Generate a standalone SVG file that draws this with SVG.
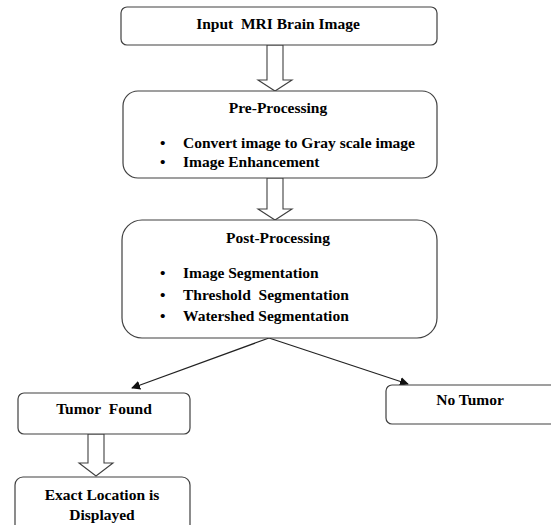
<svg xmlns="http://www.w3.org/2000/svg" width="551" height="525" viewBox="0 0 551 525">
<defs>
<style>
.box{fill:#fff;stroke:#404040;stroke-width:1.2}
text{font-family:'Liberation Serif','DejaVu Serif','Times New Roman',serif;font-weight:bold;font-size:15.5px;fill:#000}
.c{text-anchor:middle}
.blk{fill:#fff;stroke:#404040;stroke-width:1.1}
.ln{stroke:#222;stroke-width:1.2;fill:none}
</style>
<marker id="ah" viewBox="0 0 10 10" refX="9" refY="5" markerWidth="9" markerHeight="9" markerUnits="userSpaceOnUse" orient="auto">
<path d="M0,0 L10,5 L0,10 z" fill="#111"/>
</marker>
</defs>
<rect width="551" height="525" fill="#fff"/>
<g id="connectors">
<polygon class="blk" points="267,45 283,45 283,80 292,80 275,91 258,80 267,80"/>
<polygon class="blk" points="267,178 283,178 283,209 292,209 275,220 258,209 267,209"/>
<line class="ln" x1="269" y1="338" x2="132" y2="388" marker-end="url(#ah)"/>
<line class="ln" x1="269" y1="338" x2="408" y2="384" marker-end="url(#ah)"/>
<polygon class="blk" points="88,434 104,434 104,463 113,463 96,476 79,463 88,463"/>
</g>
<g id="input">
<rect class="box" x="121" y="7" width="316" height="38" rx="6"/>
<text class="c" x="278" y="29" xml:space="preserve">Input  MRI Brain Image</text>
</g>
<g id="preprocessing">
<rect class="box" x="123" y="91" width="314" height="87" rx="15"/>
<text class="c" x="278" y="113">Pre-Processing</text>
<text x="160" y="148">•</text>
<text x="183" y="148">Convert image to Gray scale image</text>
<text x="160" y="167">•</text>
<text x="183" y="167">Image Enhancement</text>
</g>
<g id="postprocessing">
<rect class="box" x="122" y="220" width="315" height="118" rx="20"/>
<text class="c" x="278" y="243">Post-Processing</text>
<text x="160" y="278">•</text>
<text x="183" y="278">Image Segmentation</text>
<text x="160" y="300">•</text>
<text x="183" y="300" xml:space="preserve">Threshold  Segmentation</text>
<text x="160" y="321">•</text>
<text x="183" y="321">Watershed Segmentation</text>
</g>
<g id="tumorfound">
<rect class="box" x="18" y="393" width="172" height="41" rx="6"/>
<text class="c" x="104" y="414" xml:space="preserve">Tumor  Found</text>
</g>
<g id="notumor">
<rect class="box" x="386" y="385" width="175" height="39" rx="6"/>
<text class="c" x="470" y="405">No Tumor</text>
</g>
<g id="location">
<rect class="box" x="15" y="477" width="175" height="60" rx="8"/>
<text class="c" x="102" y="500">Exact Location is</text>
<text class="c" x="102" y="520">Displayed</text>
</g>
</svg>
